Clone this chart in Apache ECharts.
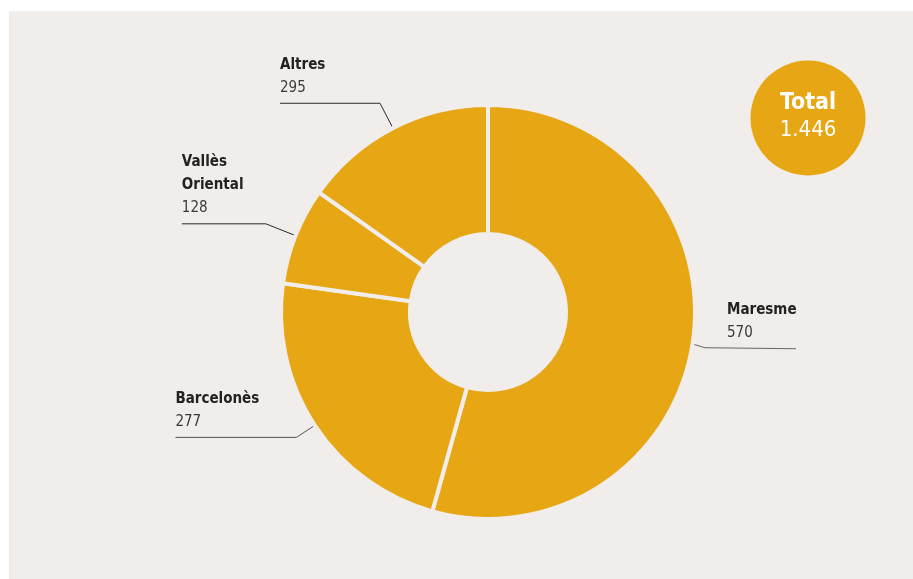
<!DOCTYPE html>
<html>
<head>
<meta charset="utf-8">
<script src="https://cdn.jsdelivr.net/npm/echarts@6/dist/echarts.min.js"></script>
<style>
  html, body { margin: 0; padding: 0; background: #ffffff; }
  #chart { width: 913px; height: 579px; }
</style>
</head>
<body>
<div id="chart"></div>
<script>
// ---- data ----
const categories = ['Maresme', 'Barcelonès', 'Vallès Oriental', 'Altres'];
const labelValues = [570, 277, 128, 295];          // numbers printed on the labels
const sliceAngles = [195.6, 82.4, 27.3, 54.7];       // slice sizes as drawn (degrees)
const totalLabel = 'Total';
const totalValue = '1.446';

// ---- style / layout ----
const sliceColor = '#e7a614';
const panelColor = '#f0edea';
const fontFamily = "'Liberation Sans Narrow', 'DejaVu Sans Condensed', 'Noto Sans', sans-serif";
const lineLen = [12, 22, 32, 28];
const lineLen2 = [91, 121, 84, 100];
const lineColors = ['#666666', '#555555', '#2a2a2a', '#2a2a2a'];
const textShift = [-69, 0, 0, 0];
const anchorDy = [4, 0, 0, 0];
const elbowDy = [6, 0, 0, 0];

const chart = echarts.init(document.getElementById('chart'), null, { renderer: 'canvas' });

const data = categories.map((name, i) => ({
  name: name,
  value: sliceAngles[i],
  labelValue: labelValues[i],
  labelLine: { length: lineLen[i], length2: lineLen2[i], lineStyle: { color: lineColors[i], width: 1 } }
}));

chart.setOption({
  backgroundColor: '#ffffff',
  animation: false,
  graphic: [
    { type: 'rect', z: -10, shape: { x: 9, y: 11, width: 904, height: 568 }, style: { fill: panelColor } },
    { type: 'circle', z: 5, shape: { cx: 808, cy: 118, r: 57.5 }, style: { fill: sliceColor } },
    { type: 'text', z: 6, x: 808, y: 103, style: { text: totalLabel, fill: '#ffffff', font: "bold 23px " + fontFamily, align: 'center', verticalAlign: 'middle' } },
    { type: 'text', z: 6, x: 808, y: 130, style: { text: totalValue, fill: '#ffffff', font: "22px " + fontFamily, align: 'center', verticalAlign: 'middle' } }
  ],
  series: [{
    type: 'pie',
    center: [488, 312],
    radius: [78, 207],
    startAngle: 90,
    clockwise: true,
    avoidLabelOverlap: false,
    silent: true,
    itemStyle: { color: sliceColor, borderColor: panelColor, borderWidth: 4 },
    label: {
      show: true,
      position: 'outside',
      formatter: function (p) {
        const nameLines = p.name.split(' ').map(s => '{n|' + s + '}').join('\n');
        return nameLines + '\n{v|' + p.data.labelValue + '}';
      },
      rich: {
        n: { fontFamily: fontFamily, fontWeight: 'bold', fontSize: 15, color: '#222222', lineHeight: 23 },
        v: { fontFamily: fontFamily, fontWeight: 'normal', fontSize: 15, color: '#3a3a3a', lineHeight: 23 }
      }
    },
    labelLine: { show: true, smooth: false },
    labelLayout: function (params) {
      const src = params.labelLinePoints;
      if (!src) return {};
      const i = params.dataIndex;
      const pts = [
        [src[0][0], src[0][1] + anchorDy[i]],
        [src[1][0], src[1][1] + elbowDy[i]],
        [src[2][0], src[2][1] + elbowDy[i] + (elbowDy[i] ? 1 : 0)]
      ];
      const p2 = pts[2];
      return {
        x: p2[0] + textShift[i],
        y: p2[1] - 4,
        align: 'left',
        verticalAlign: 'bottom',
        labelLinePoints: pts
      };
    },
    data: data
  }]
});
</script>
</body>
</html>
